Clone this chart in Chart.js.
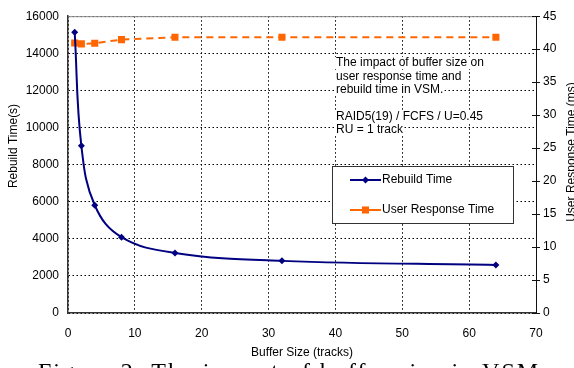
<!DOCTYPE html>
<html>
<head>
<meta charset="utf-8">
<script src="https://cdn.jsdelivr.net/npm/chart.js@4.4.1/dist/chart.umd.min.js"></script>
<style>
  html, body { margin: 0; padding: 0; background: #fff; }
  #wrap { position: relative; width: 574px; height: 368px; overflow: hidden; }
</style>
</head>
<body>
<div id="wrap"><canvas id="bufferChart" width="574" height="368"></canvas></div>
<script>
const bufferSizes = [1, 2, 4, 8, 16, 32, 64];
const rebuildTime = [15130, 9010, 5810, 4090, 3240, 2810, 2590];
const responseTime = [40.95, 40.8, 40.9, 41.45, 41.8, 41.8, 41.8];
const xTicks = [0, 10, 20, 30, 40, 50, 60, 70];
const leftTicks = [0, 2000, 4000, 6000, 8000, 10000, 12000, 14000, 16000];
const rightTicks = [0, 5, 10, 15, 20, 25, 30, 35, 40, 45];
const noteLines = [
  'The impact of buffer size on',
  'user response time and',
  'rebuild time in VSM.',
  '',
  'RAID5(19) / FCFS / U=0.45',
  'RU = 1 track'
];
const legendItems = ['Rebuild Time', 'User Response Time'];

const navy = '#000080';
const orange = '#ff6600';
const font = 'Liberation Sans, Arial, sans-serif';

const extras = {
  id: 'extras',
  afterDraw(chart) {
    const { ctx, chartArea: a, scales } = chart;
    ctx.save();

    // frame
    ctx.lineWidth = 1;
    ctx.strokeStyle = '#888';
    ctx.beginPath(); ctx.moveTo(a.left, a.top + 0.5); ctx.lineTo(a.right, a.top + 0.5); ctx.stroke();
    ctx.strokeStyle = '#111';
    ctx.beginPath(); ctx.moveTo(a.right + 0.5, a.top); ctx.lineTo(a.right + 0.5, a.bottom); ctx.stroke();

    // right axis ticks crossing the axis line
    const y1 = scales.y1;
    y1.ticks.forEach(t => {
      const py = Math.round(y1.getPixelForValue(t.value)) + 0.5;
      ctx.beginPath(); ctx.moveTo(a.right - 4, py); ctx.lineTo(a.right + 4, py); ctx.stroke();
    });

    // axis titles
    ctx.fillStyle = '#000';
    ctx.font = '12px ' + font;
    ctx.textAlign = 'center';
    ctx.textBaseline = 'middle';
    ctx.save();
    ctx.translate(14, 146);
    ctx.rotate(-Math.PI / 2);
    ctx.fillText('Rebuild Time(s)', 0, 0);
    ctx.restore();
    ctx.save();
    ctx.translate(572, 152);
    ctx.rotate(-Math.PI / 2);
    ctx.fillText('User Response Time (ms)', 0, 0);
    ctx.restore();
    ctx.fillText('Buffer Size (tracks)', (a.left + a.right) / 2, 353);

    // note text, with white behind each line
    ctx.textAlign = 'left';
    noteLines.forEach((line, i) => {
      if (!line) return;
      const ty = 63 + i * 13.4;
      const w = ctx.measureText(line).width;
      ctx.fillStyle = '#fff';
      ctx.fillRect(335, ty - 6, w + 2, 12);
      ctx.fillStyle = '#000';
      ctx.fillText(line, 336, ty);
    });

    // legend
    ctx.fillStyle = '#fff';
    ctx.fillRect(332, 166, 181, 57);
    ctx.strokeStyle = '#333';
    ctx.lineWidth = 1;
    ctx.strokeRect(332.5, 166.5, 181, 57);
    const colors = [navy, orange];
    const styles = ['rectRot', 'rect'];
    const radii = [3.5, 5];
    legendItems.forEach((label, i) => {
      const ly = 180 + i * 30;
      ctx.strokeStyle = colors[i];
      ctx.lineWidth = 2;
      ctx.beginPath(); ctx.moveTo(350, ly); ctx.lineTo(381, ly); ctx.stroke();
      ctx.fillStyle = colors[i];
      Chart.helpers.drawPoint(ctx, { pointStyle: styles[i], radius: radii[i], borderWidth: 0 }, 365.5, ly);
      ctx.fillStyle = '#000';
      ctx.fillText(label, 382, ly);
    });

    // figure caption, cut off by the bottom edge
    ctx.font = '24px Liberation Serif, serif';
    ctx.letterSpacing = '2px';
    ctx.textBaseline = 'alphabetic';
    ctx.fillText('Figure 2: The impact of buffer size in VSM', 38, 379);
    ctx.restore();
  }
};

const plainLabel = v => String(v);

new Chart(document.getElementById('bufferChart'), {
  type: 'line',
  data: {
    datasets: [
      {
        label: legendItems[0],
        data: bufferSizes.map((x, i) => ({ x, y: rebuildTime[i] })),
        yAxisID: 'y',
        borderColor: navy,
        backgroundColor: navy,
        borderWidth: 2,
        pointStyle: 'rectRot',
        pointRadius: 3.5,
        pointBorderWidth: 0,
        tension: 0.4
      },
      {
        label: legendItems[1],
        data: bufferSizes.map((x, i) => ({ x, y: responseTime[i] })),
        yAxisID: 'y1',
        borderColor: orange,
        backgroundColor: orange,
        borderWidth: 2,
        borderDash: [7, 5],
        pointStyle: 'rect',
        pointRadius: 5,
        pointBorderWidth: 0,
        tension: 0
      }
    ]
  },
  options: {
    responsive: false,
    animation: false,
    layout: { padding: { top: 4, left: 0, right: 0, bottom: 0 } },
    plugins: { legend: { display: false }, tooltip: { enabled: false } },
    scales: {
      x: {
        type: 'linear',
        min: 0,
        max: 70,
        afterBuildTicks: s => { s.ticks = xTicks.map(v => ({ value: v })); },
        afterFit: s => { s.height = 55; },
        grid: { color: '#000', lineWidth: 1, drawTicks: false },
        border: { color: '#333', width: 1.5, dash: [1.5, 2.5] },
        ticks: { color: '#000', padding: 13, callback: plainLabel, font: { family: font, size: 12 } }
      },
      y: {
        position: 'left',
        min: 0,
        max: 16000,
        afterBuildTicks: s => { s.ticks = leftTicks.map(v => ({ value: v })); },
        afterFit: s => { s.width = 68; },
        grid: { color: '#000', lineWidth: 1, drawTicks: false },
        border: { color: '#333', width: 1.5, dash: [1.5, 2.5] },
        ticks: { color: '#000', padding: 9, callback: plainLabel, font: { family: font, size: 12 } }
      },
      y1: {
        position: 'right',
        min: 0,
        max: 45,
        afterBuildTicks: s => { s.ticks = rightTicks.map(v => ({ value: v })); },
        afterFit: s => { s.width = 38; },
        grid: { drawOnChartArea: false, drawTicks: false },
        border: { color: '#111', width: 1 },
        ticks: { color: '#000', padding: 7, callback: plainLabel, font: { family: font, size: 12 } }
      }
    }
  },
  plugins: [extras]
});
</script>
</body>
</html>
